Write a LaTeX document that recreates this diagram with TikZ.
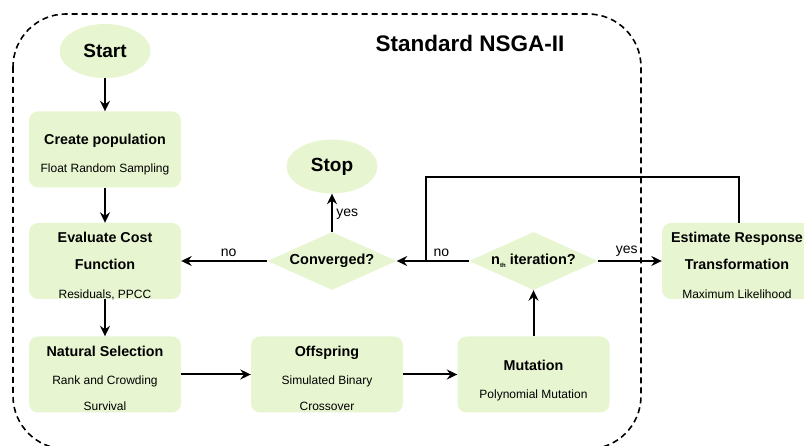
\documentclass[tikz,border=0pt]{standalone}
\usepackage{fontspec}
\setmainfont{Liberation Sans}
\usetikzlibrary{shapes.geometric,arrows.meta}
\definecolor{leaf}{HTML}{E7F5D1}

\begin{document}
\begin{tikzpicture}[x=1pt,y=-1pt,
   every node/.style={font=\fontsize{12}{28}\selectfont},
   box/.style={rectangle,rounded corners=9pt,fill=leaf,minimum width=152pt,
               minimum height=76pt,inner sep=0pt},
   words/.style={align=center,inner sep=0pt,yshift=-#1},
   term/.style={ellipse,fill=leaf,minimum width=91pt,minimum height=54pt,
                font=\fontsize{19}{22}\bfseries},
   test/.style={diamond,fill=leaf,aspect=2.2,minimum width=129pt,minimum height=58pt,
                inner sep=0pt,font=\fontsize{14.5}{16}\bfseries},
   flow/.style={line width=2pt,-{Stealth[length=10.5pt,width=10pt,inset=3.5pt]}},
   tag/.style={font=\fontsize{14}{16}\selectfont}]

\useasboundingbox (0,0) rectangle (804,446);
\begin{scope}
\clip (0,0) rectangle (804,446);
\draw[line width=1.6pt,dash pattern=on 6pt off 4pt,rounded corners=53pt]
   (13,14) rectangle (641,449);
\end{scope}
\node[font=\fontsize{22.5}{25}\bfseries] (title) at (470,43) {Standard NSGA-II};

\newcommand{\hd}[1]{{\fontsize{14.3}{28}\bfseries #1}}

\node[term] (start) at (105,51) {Start};
\node[box,label={[words=5pt]center:{\hd{Create population}\\Float Random Sampling}}]
   (create) at (105,149.5) {};
\node[box,label={[words=5pt]center:{\hd{Evaluate Cost}\\[-1pt]\hd{Function}\\[1pt]Residuals, PPCC}}]
   (evaluate) at (105,261) {};
\node[box,label={[words=4pt]center:{\hd{Natural Selection}\\Rank and Crowding\\[-2pt]Survival}}]
   (select) at (105,374.5) {};
\node[box,label={[words=4pt]center:{\hd{Offspring}\\Simulated Binary\\[-2pt]Crossover}}]
   (offspring) at (327,374.5) {};
\node[box,label={[words=6pt]center:{\hd{Mutation}\\Polynomial Mutation}}]
   (mutation) at (533.5,374.5) {};
\node[test] (iter) at (533.5,261) {n\raisebox{-0.35ex}{\fontsize{6}{6}\selectfont th} iteration?};
\node[test] (conv) at (332,261) {Converged?};
\node[term] (stop) at (332,166.5) {Stop};
\begin{scope}
\clip (0,0) rectangle (804,446);
\node[box,minimum width=150pt,
   label={[words=4pt]center:{\hd{Estimate Response}\\[-1pt]\hd{Transformation}\\[1pt]Maximum Likelihood}}]
   (estimate) at (737,261) {};
\end{scope}

\coordinate (join) at (426,261);
\coordinate (loopa) at (739,177);
\coordinate (loopb) at (426,177);

\draw[flow] (start) -- (create);
\draw[flow] (create) -- (evaluate);
\draw[flow] (evaluate) -- (select);
\draw[flow] (select) -- (offspring);
\draw[flow] (offspring) -- (mutation);
\draw[flow] (mutation) -- (iter);
\draw[flow] (iter) -- node[tag,above,pos=0.45] {yes} (estimate);
\draw[flow] (iter) -- node[tag,above,pos=0.38] {no} (conv);
\draw[flow] (conv) -- node[tag,above,pos=0.45] {no} (evaluate);
\draw[flow] (conv) -- node[tag,right,pos=0.45] {yes} (stop);
\draw[line width=2pt] (estimate.north -| loopa) -- (loopa) -- (loopb) -- (join);

\end{tikzpicture}
\end{document}
